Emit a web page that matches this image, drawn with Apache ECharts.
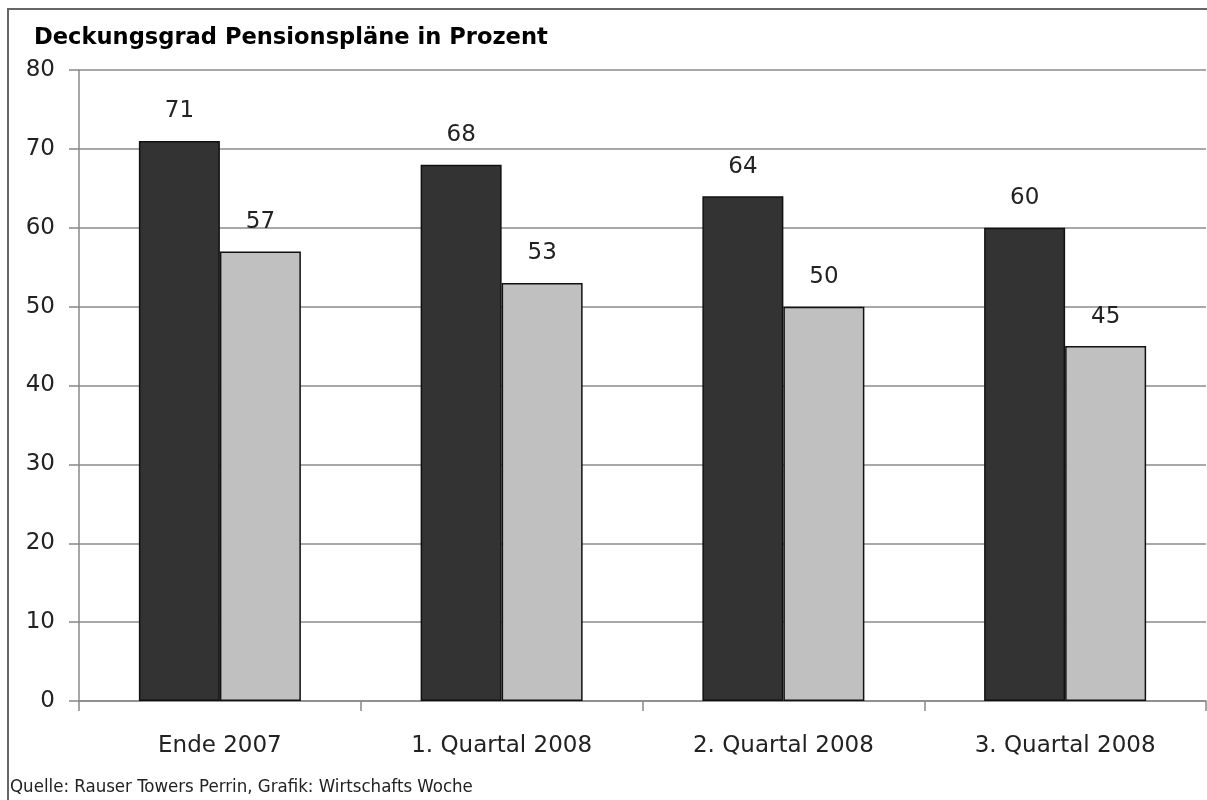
<!DOCTYPE html>
<html lang="de">
<head>
    <meta charset="UTF-8">
    <title>Deckungsgrad Pensionspläne</title>
    <script src="https://cdn.jsdelivr.net/npm/echarts@6/dist/echarts.min.js"></script>
</head>
<style>
html,body{margin:0;padding:0;background-color:#fff}
#chartBox{width:1207px;height:800px}
</style>
<body>
    <div id="chartBox"></div>
</body>
<script>
// Daten
const categories = ['Ende 2007', '1. Quartal 2008', '2. Quartal 2008', '3. Quartal 2008'];
const seriesDark = [71, 68, 64, 60];
const seriesLight = [57, 53, 50, 45];
const titleText = 'Deckungsgrad Pensionspläne in Prozent';
const sourceText = 'Quelle: Rauser Towers Perrin, Grafik: Wirtschafts Woche';

const axisFont = '"DejaVu Sans", sans-serif';

function barSeries(name, data, color){
    return {
        type: 'bar',
        name: name,
        data: data,
        barWidth: 81,
        barGap: '0%',
        itemStyle: {
            color: color,
            borderColor: '#111',
            borderWidth: 1.5
        },
        label: {
            show: true,
            position: 'top',
            distance: 18,
            fontFamily: axisFont,
            fontSize: 23,
            color: '#222'
        }
    };
}

let chartObj = echarts.init(document.getElementById('chartBox'));
chartObj.setOption({
    animation: false,
    backgroundColor: '#fff',
    title: {
        text: titleText,
        left: 29,
        top: 22,
        textStyle: {
            fontFamily: '"DejaVu Sans", sans-serif',
            fontWeight: 'bold',
            fontSize: 22.6,
            color: '#000'
        }
    },
    graphic: [
        {
            type: 'rect',
            shape: {x: 8, y: 9, width: 1400, height: 1000},
            style: {fill: 'none', stroke: '#666', lineWidth: 2},
            silent: true
        },
        {
            type: 'text',
            left: 10,
            top: 778,
            style: {
                text: sourceText,
                fontFamily: '"Liberation Sans Narrow", "DejaVu Sans Condensed", sans-serif',
                fontSize: 18.5,
                fill: '#222'
            }
        }
    ],
    grid: {
        left: 79,
        right: 1,
        top: 70,
        bottom: 99,
        containLabel: false
    },
    xAxis: {
        type: 'category',
        data: categories,
        axisLine: {lineStyle: {color: '#888', width: 1.5}},
        axisTick: {show: true, length: 10, lineStyle: {color: '#888', width: 1.5}},
        axisLabel: {
            fontFamily: axisFont,
            fontSize: 23,
            color: '#222',
            margin: 34,
            interval: 0
        }
    },
    yAxis: {
        type: 'value',
        min: 0,
        max: 80,
        interval: 10,
        axisLine: {show: true, lineStyle: {color: '#888', width: 1.5}},
        axisTick: {show: true, length: 10, lineStyle: {color: '#888', width: 1.5}},
        axisLabel: {
            fontFamily: axisFont,
            fontSize: 23,
            color: '#222',
            margin: 24
        },
        splitLine: {show: true, lineStyle: {color: '#a8a8a8', width: 2}}
    },
    series: [
        barSeries('dunkel', seriesDark, '#333333'),
        barSeries('hell', seriesLight, '#c0c0c0')
    ]
});
</script>
</html>
